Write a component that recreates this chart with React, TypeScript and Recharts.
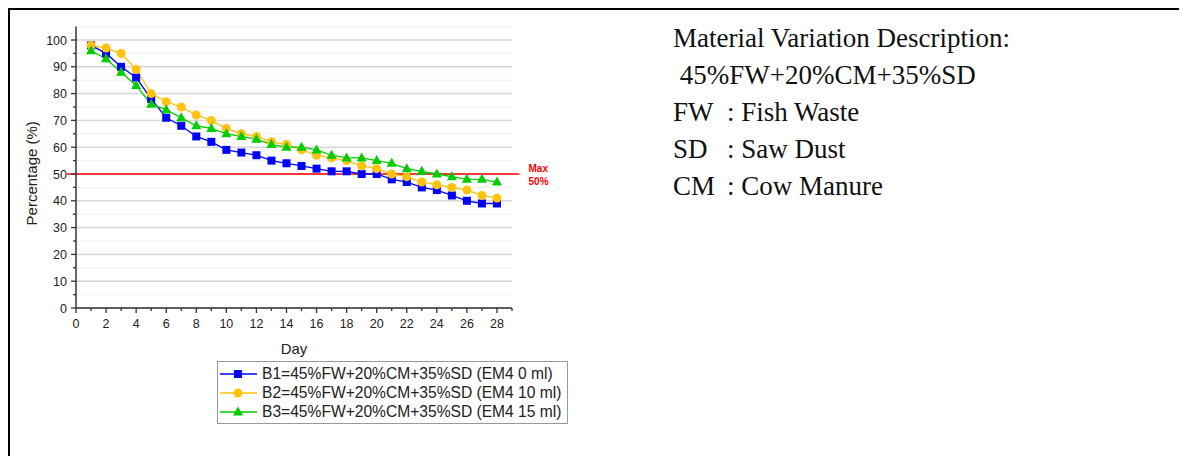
import { LineChart, Line, XAxis, YAxis, CartesianGrid, ReferenceLine, Legend } from "recharts";

const days = [1, 2, 3, 4, 5, 6, 7, 8, 9, 10, 11, 12, 13, 14, 15, 16, 17, 18, 19, 20, 21, 22, 23, 24, 25, 26, 27, 28];
const b1 = [98, 95, 90, 86, 78, 71, 68, 64, 62, 59, 58, 57, 55, 54, 53, 52, 51, 51, 50, 50, 48, 47, 45, 44, 42, 40, 39, 39];
const b2 = [98, 97, 95, 89, 80, 77, 75, 72, 70, 67, 65, 64, 62, 61, 59, 57, 56, 55, 53, 52, 50, 49, 47, 46, 45, 44, 42, 41];
const b3 = [96, 93, 88, 83, 76, 74, 71, 68, 67, 65, 64, 63, 61, 60, 60, 59, 57, 56, 56, 55, 54, 52, 51, 50, 49, 48, 48, 47];

const seriesNames = [
  "B1=45%FW+20%CM+35%SD (EM4 0 ml)",
  "B2=45%FW+20%CM+35%SD (EM4 10 ml)",
  "B3=45%FW+20%CM+35%SD (EM4 15 ml)",
];
const xTicks = [0, 1, 2, 3, 4, 5, 6, 7, 8, 9, 10, 11, 12, 13, 14, 15, 16, 17, 18, 19, 20, 21, 22, 23, 24, 25, 26, 27, 28, 29];
const yTicks = [0, 5, 10, 15, 20, 25, 30, 35, 40, 45, 50, 55, 60, 65, 70, 75, 80, 85, 90, 95, 100];
const maxLimit = 50;

const notes = [
  ["", "Material Variation Description:"],
  ["", "\u00a045%FW+20%CM+35%SD"],
  ["FW", ": Fish Waste"],
  ["SD", ": Saw Dust"],
  ["CM", ": Cow Manure"],
];

const data = days.map((d, i) => ({ day: d, b1: b1[i], b2: b2[i], b3: b3[i] }));

const FONT = '"Liberation Sans", Arial, sans-serif';
const AXIS = "#333";

const series = [
  { key: "b1", name: seriesNames[0], color: "#0000ff", shape: "square" },
  { key: "b2", name: seriesNames[1], color: "#ffc20e", shape: "circle" },
  { key: "b3", name: seriesNames[2], color: "#00cc00", shape: "triangle" },
];

function Marker({ cx, cy, shape, color }: { cx: number; cy: number; shape: string; color: string }) {
  if (cx == null || cy == null) return null;
  if (shape === "square") return <rect x={cx - 4} y={cy - 4} width={8} height={8} fill={color} />;
  if (shape === "circle") return <circle cx={cx} cy={cy} r={4.5} fill={color} />;
  return <polygon points={`${cx},${cy - 5.5} ${cx + 5},${cy + 3.5} ${cx - 5},${cy + 3.5}`} fill={color} />;
}

function XTick(props: any) {
  const { x, y, payload } = props;
  const major = payload.value % 2 === 0;
  return (
    <g>
      <line x1={x} y1={y} x2={x} y2={y + (major ? 5 : 3)} stroke={AXIS} strokeWidth={1.3} />
      {major && payload.value <= 28 && (
        <text x={x} y={y + 20} textAnchor="middle" fontSize={12.5} fontFamily={FONT} fill="#222">
          {payload.value}
        </text>
      )}
    </g>
  );
}

function YTick(props: any) {
  const { x, y, payload } = props;
  const major = payload.value % 10 === 0;
  return (
    <g>
      <line x1={x} y1={y} x2={x - (major ? 5 : 3)} y2={y} stroke={AXIS} strokeWidth={1.3} />
      {major && (
        <text x={x - 9} y={y + 4.5} textAnchor="end" fontSize={12.5} fontFamily={FONT} fill="#222">
          {payload.value}
        </text>
      )}
    </g>
  );
}

function GridLine(props: any) {
  const { x1, y1, x2, y2, index } = props;
  const major = index % 2 === 0;
  return (
    <line
      key={`g-${index}`}
      x1={x1}
      y1={y1}
      x2={x2}
      y2={y2}
      stroke={major ? "#d6d6d6" : "#f1f1f1"}
      strokeWidth={major ? 1.5 : 1}
    />
  );
}

function MaxLabel(props: any) {
  const { viewBox } = props;
  const x = viewBox.x + viewBox.width + 9;
  const y = viewBox.y;
  return (
    <text x={x} y={y} fontSize={10} fontWeight="bold" fontFamily={FONT} fill="#ff0000">
      <tspan x={x} dy={-2}>Max</tspan>
      <tspan x={x} dy={13}>{maxLimit}%</tspan>
    </text>
  );
}

function LegendBox() {
  return (
    <div
      style={{
        border: "1px solid #999",
        background: "#fff",
        padding: "2px 2px",
        fontFamily: FONT,
        fontSize: 15.6,
        color: "#222",
        lineHeight: "19px",
        width: 345,
        boxSizing: "content-box",
      }}
    >
      {series.map((s) => (
        <div key={s.key} style={{ display: "flex", alignItems: "center", whiteSpace: "nowrap" }}>
          <svg width={38} height={14} style={{ marginRight: 4 }}>
            <line x1={0} y1={7} x2={37} y2={7} stroke={s.color} strokeWidth={1.3} />
            <Marker cx={18} cy={7} shape={s.shape} color={s.color} />
          </svg>
          <span>{s.name}</span>
        </div>
      ))}
    </div>
  );
}

export default function App() {
  return (
    <div style={{ position: "relative", width: 1179, height: 448 }}>
      <div
        style={{
          position: "absolute",
          left: 0,
          top: 0,
          width: 1179,
          height: 448,
          borderTop: "2px solid #000",
          borderLeft: "2px solid #000",
          boxSizing: "border-box",
        }}
      />
      <div style={{ position: "absolute", left: 2, top: 2 }}>
        <LineChart width={600} height={440} data={data} margin={{ top: 16.6, right: 98, bottom: 112, left: 26 }}>
          <CartesianGrid vertical={false} horizontal={GridLine} />
          <XAxis
            dataKey="day"
            type="number"
            domain={[0, 29]}
            ticks={xTicks}
            interval={0}
            height={30}
            tickSize={0}
            tickMargin={0}
            tick={XTick}
            axisLine={{ stroke: AXIS, strokeWidth: 1.5 }}
            label={{ value: "Day", position: "bottom", offset: 5, fontSize: 15, fontFamily: FONT, fill: "#222" }}
          />
          <YAxis
            type="number"
            domain={[0, 105]}
            ticks={yTicks}
            interval={0}
            width={40}
            tickSize={0}
            tickMargin={0}
            tick={YTick}
            axisLine={{ stroke: AXIS, strokeWidth: 1.5 }}
            label={{
              value: "Percentage (%)",
              angle: -90,
              position: "insideLeft",
              dx: -9,
              dy: 6,
              fontSize: 15,
              fontFamily: FONT,
              fill: "#222",
              style: { textAnchor: "middle" },
            }}
          />
          <ReferenceLine
            segment={[
              { x: -0.6, y: maxLimit },
              { x: 29.5, y: maxLimit },
            ]}
            ifOverflow="visible"
            stroke="#ff0000"
            strokeWidth={1.5}
            label={<MaxLabel />}
          />
          {series.map((s) => (
            <Line
              key={s.key}
              type="linear"
              dataKey={s.key}
              name={s.name}
              stroke={s.color}
              strokeWidth={1.3}
              isAnimationActive={false}
              dot={(p: any) => <Marker key={`${s.key}-${p.index}`} cx={p.cx} cy={p.cy} shape={s.shape} color={s.color} />}
              activeDot={false}
            />
          ))}
          <Legend
            layout="horizontal"
            verticalAlign="middle"
            align="center"
            content={() => <LegendBox />}
            wrapperStyle={{ left: 207, top: 351, width: 351 }}
          />
        </LineChart>
      </div>
      <div
        style={{
          position: "absolute",
          left: 665,
          top: 12,
          fontFamily: '"Liberation Serif", "DejaVu Serif", serif',
          fontSize: 27,
          lineHeight: "37px",
          color: "#111",
          whiteSpace: "pre",
        }}
      >
        {notes.map(([k, v], i) => (
          <div key={i} style={{ display: "flex" }}>
            {k && <span style={{ display: "inline-block", width: 54 }}>{k}</span>}
            <span>{v}</span>
          </div>
        ))}
      </div>
    </div>
  );
}
